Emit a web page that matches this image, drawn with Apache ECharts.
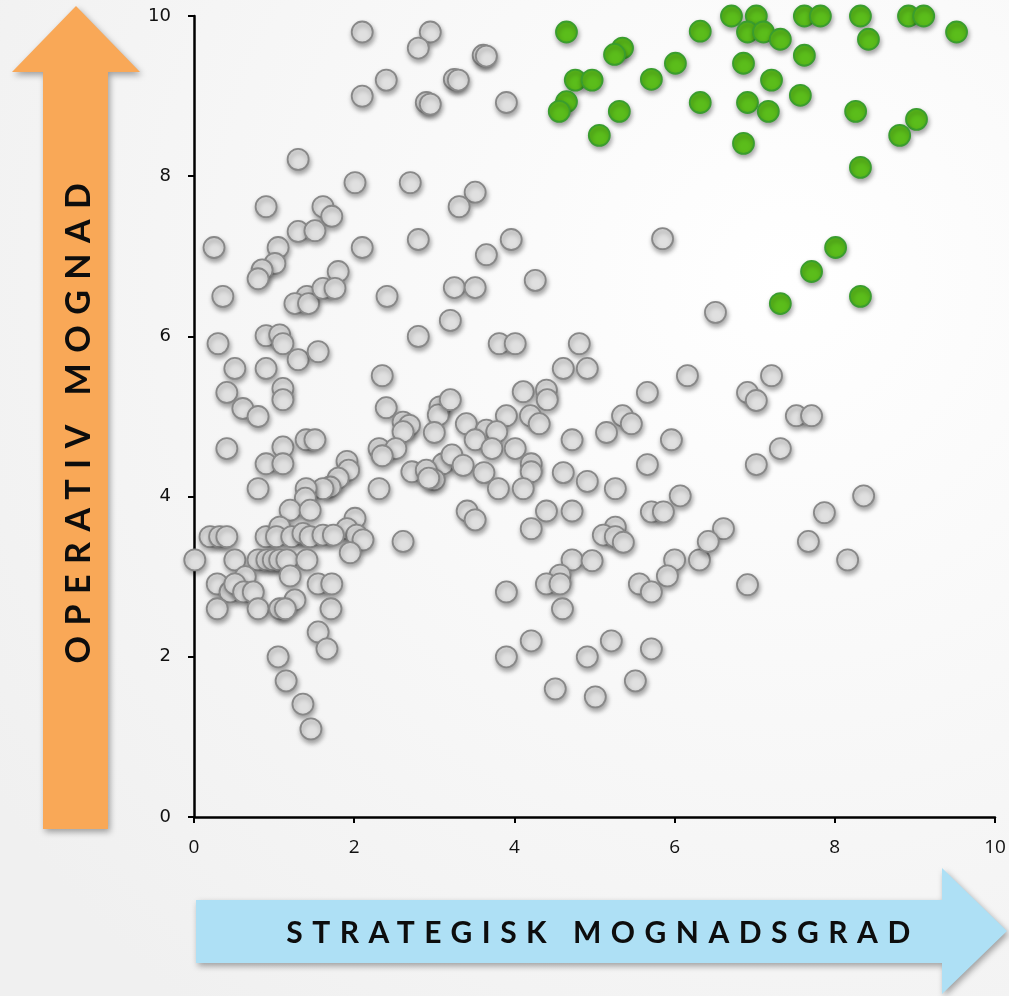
<!DOCTYPE html>
<html>
<head>
<meta charset="utf-8">
<script src="https://cdn.jsdelivr.net/npm/echarts@6/dist/echarts.min.js"></script>
<style>
html,body{margin:0;padding:0;background:#fff;}
#chart{width:1009px;height:996px;}
</style>
</head>
<body>
<div id="chart"></div>
<script>
// ---- data ----
const xTitle = 'STRATEGISK MOGNADSGRAD';
const yTitle = 'OPERATIV MOGNAD';
const axisMin = 0, axisMax = 10, axisStep = 2;

const grayPoints = [
  [2.1,9.8],[2.95,9.8],[2.8,9.6],[2.4,9.2],[2.1,9.0],[2.9,8.92],[2.95,8.9],[3.25,9.21],[3.3,9.2],[3.61,9.51],[3.65,9.5],[3.9,8.92],
  [1.3,8.21],[2.01,7.92],[2.7,7.92],[0.9,7.62],[1.61,7.62],[1.72,7.5],[1.3,7.31],[1.51,7.32],[0.25,7.11],[1.05,7.11],[2.1,7.11],[2.8,7.21],
  [1.01,6.91],[0.85,6.83],[0.8,6.72],[1.8,6.81],[3.51,7.8],[3.31,7.62],[3.96,7.21],[3.65,7.02],[5.85,7.22],[4.26,6.7],
  [0.36,6.5],[1.41,6.5],[1.26,6.41],[1.43,6.41],[1.61,6.6],[1.76,6.6],[2.41,6.5],[3.25,6.61],[3.51,6.61],[3.2,6.2],[6.51,6.3],[2.8,6.0],
  [0.3,5.91],[0.9,6.01],[1.07,6.02],[1.11,5.91],[1.3,5.71],[1.55,5.81],[0.51,5.6],[0.9,5.6],[2.35,5.51],[0.41,5.3],[1.11,5.35],[1.11,5.21],
  [0.61,5.1],[0.8,5.0],[2.4,5.11],[3.81,5.91],[4.01,5.91],[4.81,5.91],[4.61,5.6],[4.91,5.6],[6.16,5.51],[5.66,5.3],[4.11,5.31],[4.4,5.33],
  [4.41,5.21],[7.21,5.51],[6.91,5.3],[7.02,5.2],[3.07,5.12],[3.05,5.02],[3.2,5.21],
  [0.41,4.6],[1.11,4.62],[1.4,4.71],[1.51,4.71],[0.9,4.41],[1.11,4.41],[0.8,4.1],[2.61,4.93],[2.69,4.89],[2.61,4.81],[3.0,4.8],[2.31,4.6],
  [2.52,4.6],[2.35,4.51],[3.11,4.41],[3.22,4.52],[2.72,4.31],[2.9,4.33],[3.0,4.21],[2.93,4.23],[1.91,4.44],[1.93,4.33],[1.8,4.23],[1.7,4.12],
  [1.61,4.1],[1.4,4.1],[1.39,3.98],[2.31,4.1],[3.9,5.01],[4.2,5.01],[4.31,4.91],[5.35,5.01],[5.46,4.91],[5.15,4.8],[3.4,4.91],[3.65,4.83],
  [3.78,4.81],[3.51,4.71],[3.72,4.6],[4.01,4.6],[4.72,4.71],[5.96,4.71],[3.36,4.39],[3.62,4.3],[4.21,4.41],[4.21,4.31],[5.66,4.4],[4.61,4.3],
  [4.91,4.19],[5.26,4.1],[3.8,4.1],[4.11,4.1],[6.07,4.01],[7.52,5.01],[7.71,5.01],[7.32,4.6],[7.02,4.4],[8.36,4.01],
  [1.2,3.83],[1.45,3.83],[2.01,3.73],[1.91,3.6],[2.03,3.52],[2.11,3.46],[0.2,3.5],[0.32,3.5],[0.41,3.5],[0.9,3.5],[1.07,3.62],[1.03,3.5],
  [1.22,3.5],[1.36,3.54],[1.45,3.5],[1.61,3.52],[1.74,3.52],[2.61,3.44],[0.01,3.21],[0.51,3.21],[0.8,3.21],[0.91,3.21],[0.99,3.21],[1.07,3.21],
  [1.16,3.21],[1.41,3.21],[1.2,3.01],[1.95,3.3],[0.64,3.0],[3.41,3.82],[3.51,3.71],[4.4,3.82],[4.72,3.82],[5.71,3.81],[5.86,3.81],[4.21,3.6],
  [5.26,3.62],[5.11,3.52],[5.26,3.5],[5.36,3.43],[4.72,3.21],[4.97,3.2],[6.0,3.21],[5.91,3.01],[6.31,3.21],[4.57,3.02],[7.87,3.8],[6.61,3.6],
  [6.42,3.44],[7.67,3.44],[8.16,3.21],
  [0.29,2.91],[0.45,2.81],[0.51,2.91],[0.62,2.81],[0.74,2.81],[1.55,2.91],[1.72,2.91],[1.26,2.71],[0.29,2.6],[0.8,2.6],[1.07,2.6],[1.14,2.6],
  [1.71,2.6],[4.4,2.91],[4.57,2.91],[5.56,2.91],[5.71,2.81],[3.9,2.81],[4.6,2.6],[4.21,2.2],[5.21,2.2],[6.91,2.9],
  [1.55,2.31],[1.66,2.1],[1.05,2.0],[1.15,1.7],[1.36,1.41],[1.46,1.1],[3.9,2.0],[4.91,2.0],[5.71,2.1],[5.51,1.7],[4.51,1.6],[5.01,1.5]
];

const greenPoints = [
  [4.65,9.8],[5.35,9.6],[5.25,9.52],[4.76,9.2],[4.97,9.2],[4.65,8.93],[4.56,8.81],[5.31,8.81],[5.06,8.51],[5.71,9.21],
  [6.01,9.41],[6.32,9.81],[6.32,8.92],[6.71,10.0],[7.02,10.0],[7.62,10.0],[7.82,10.0],[8.32,10.0],[8.92,10.0],[9.11,10.0],
  [9.52,9.8],[6.91,9.8],[7.11,9.8],[7.32,9.71],[8.42,9.71],[7.62,9.51],[6.86,9.41],[7.21,9.2],[7.57,9.01],[6.91,8.92],
  [7.17,8.81],[8.26,8.81],[9.02,8.71],[8.81,8.51],[6.86,8.41],[8.32,8.11],[8.01,7.11],[7.71,6.81],[7.32,6.41],[8.32,6.5]
];

// letter-spaced title text (canvas letterSpacing applied to the title fonts only)
const titleSpacing = {'30px': '9.5px', '34px': '10.5px'};
(function(){
  const orig = CanvasRenderingContext2D.prototype.fillText;
  CanvasRenderingContext2D.prototype.fillText = function(t, x, y, m){
    const f = this.font || '';
    if (f.indexOf('Lato') >= 0 && 'letterSpacing' in this) {
      let sp = null;
      for (const k in titleSpacing) { if (f.indexOf(k) >= 0) sp = titleSpacing[k]; }
      if (sp) {
        const prev = this.letterSpacing;
        this.letterSpacing = sp;
        const r = m === undefined ? orig.call(this, t, x, y) : orig.call(this, t, x, y, m);
        this.letterSpacing = prev;
        return r;
      }
    }
    return m === undefined ? orig.call(this, t, x, y) : orig.call(this, t, x, y, m);
  };
})();

const chart = echarts.init(document.getElementById('chart'), null, {renderer: 'canvas'});

const shadow = {shadowBlur: 5, shadowOffsetX: 1, shadowOffsetY: 3, shadowColor: 'rgba(0,0,0,0.35)'};
const arrowShadow = {shadowBlur: 6, shadowOffsetX: 2, shadowOffsetY: 3, shadowColor: 'rgba(0,0,0,0.35)'};

const option = {
  animation: false,
  backgroundColor: {
    type: 'radial', x: 0.78, y: 0.28, r: 0.95,
    colorStops: [{offset: 0, color: '#ffffff'}, {offset: 1, color: '#f0f0f0'}]
  },
  grid: {left: 194, right: 14, top: 16, bottom: 179, containLabel: false},
  xAxis: {
    type: 'value', min: axisMin, max: axisMax, interval: axisStep,
    splitLine: {show: false},
    axisLine: {onZero: false, lineStyle: {color: '#000', width: 2.5}},
    axisTick: {show: true, length: 6, lineStyle: {color: '#000', width: 2}},
    axisLabel: {color: '#111', fontFamily: 'Open Sans', fontSize: 19, margin: 21}
  },
  yAxis: {
    type: 'value', min: axisMin, max: axisMax, interval: axisStep,
    splitLine: {show: false},
    axisLine: {onZero: false, lineStyle: {color: '#000', width: 2.5}},
    axisTick: {show: true, length: 6, lineStyle: {color: '#000', width: 2}},
    axisLabel: {color: '#111', fontFamily: 'DejaVu Sans', fontSize: 18, margin: 23}
  },
  series: [
    {
      name: 'Övriga', type: 'scatter', data: grayPoints, symbolSize: 21,
      itemStyle: Object.assign({color: '#e0e0e0', borderColor: '#888888', borderWidth: 1.8, opacity: 1}, shadow),
      emphasis: {disabled: true}, z: 3
    },
    {
      name: 'Mogna', type: 'scatter', data: greenPoints, symbolSize: 21,
      itemStyle: Object.assign({color: '#5bbd1b', borderColor: '#3a9d2e', borderWidth: 1.8, opacity: 1}, shadow),
      emphasis: {disabled: true}, z: 4
    }
  ],
  graphic: [
    {
      type: 'polygon', z: 1,
      shape: {points: [[43,829],[43,72],[12,72],[76,6],[140,72],[108,72],[108,829]]},
      style: Object.assign({fill: '#f9a857'}, arrowShadow)
    },
    {
      type: 'polygon', z: 1,
      shape: {points: [[196,900],[942,900],[942,868],[1007,931],[942,994],[942,963],[196,963]]},
      style: Object.assign({fill: '#aee0f5'}, arrowShadow)
    },
    {
      type: 'text', z: 5, x: 603, y: 933,
      style: {text: xTitle, font: 'bold 30px Lato', fill: '#0d0d0d', align: 'center', verticalAlign: 'middle'}
    },
    {
      type: 'text', z: 5, x: 79, y: 418, rotation: Math.PI / 2,
      style: {text: yTitle, font: 'bold 34px Lato', fill: '#0d0d0d', align: 'center', verticalAlign: 'middle'}
    }
  ]
};
chart.setOption(option);
</script>
</body>
</html>
